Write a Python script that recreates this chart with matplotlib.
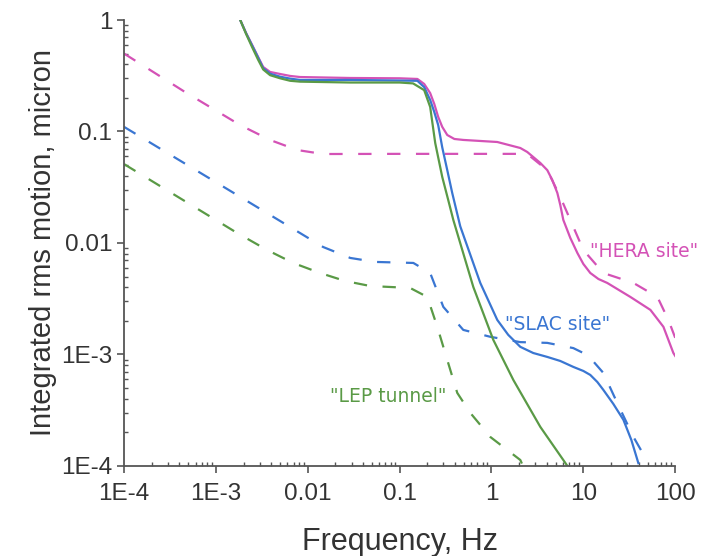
import matplotlib.pyplot as plt
from matplotlib.ticker import FixedLocator, FixedFormatter, LogLocator, NullFormatter

# HERA site
hera_f = [0.00184, 0.00213, 0.00248, 0.00288, 0.00327, 0.00389, 0.0050, 0.00643, 0.00826, 0.029,
          0.10, 0.156, 0.185, 0.215, 0.238, 0.263, 0.291, 0.330, 0.394, 0.493, 1.156, 2.06, 2.45,
          2.85, 3.40, 4.05, 4.59, 5.21, 5.61, 6.05, 7.21, 8.61, 10.0, 11.9, 14.6, 18.2, 32.5, 53.7,
          74.4, 95.5, 100]
hera_v = [1.0, 0.765, 0.597, 0.466, 0.379, 0.342, 0.328, 0.315, 0.308, 0.302,
          0.30, 0.296, 0.267, 0.221, 0.177, 0.135, 0.110, 0.093, 0.0857, 0.084, 0.0805, 0.0711, 0.0655,
          0.059, 0.0522, 0.045, 0.0367, 0.0281, 0.0219, 0.0161, 0.0111, 0.00813, 0.00648, 0.00538,
          0.00475, 0.00438, 0.00328, 0.00251, 0.00177, 0.00103, 0.00097]
hera_dash_f = [1e-4, 0.000461, 0.00184, 0.00389, 0.00767, 0.0147, 0.10, 1.25, 2.45, 3.67, 4.05,
               5.61, 7.21, 10.0, 16.5, 35.1, 64.0, 84.3, 100]
hera_dash_v = [0.50, 0.226, 0.114, 0.0839, 0.0682, 0.0628, 0.063, 0.063, 0.063, 0.048, 0.045,
               0.0259, 0.0161, 0.00865, 0.00538, 0.00438, 0.00328, 0.00204, 0.00141]

# SLAC site
slac_f = [0.00184, 0.00213, 0.00248, 0.00288, 0.00327, 0.00389, 0.0050, 0.00643, 0.00826, 0.029,
          0.156, 0.185, 0.215, 0.238, 0.263, 0.291, 0.330, 0.374, 0.457, 0.755, 1.156, 1.52, 2.06,
          2.85, 4.05, 5.61, 7.78, 10.0, 11.9, 14.2, 16.5, 21.2, 27.3, 33.3, 39.7]
slac_v = [1.0, 0.76, 0.59, 0.46, 0.37, 0.33, 0.31, 0.298, 0.29, 0.29,
          0.285, 0.25, 0.1916, 0.15, 0.114, 0.072, 0.045, 0.028, 0.0141, 0.00438, 0.00204, 0.0015,
          0.00117, 0.00103, 0.00095, 0.000874, 0.000773, 0.000711, 0.000655, 0.000566, 0.000481,
          0.00036, 0.000259, 0.000171, 0.000106]
slac_dash_f = [1e-4, 0.00184, 0.0147, 0.029, 0.0542, 0.141, 0.215, 0.299, 0.493, 0.97, 2.06,
               4.05, 7.78, 10.0, 11.9, 16.5, 23.4, 35.1, 51.1]
slac_dash_v = [0.11, 0.0259, 0.0092, 0.00734, 0.00676, 0.00662, 0.00538, 0.00267, 0.00166, 0.00144,
               0.00129, 0.00127, 0.00114, 0.00103, 0.00093, 0.000683, 0.000367, 0.000182, 0.000106]

# LEP tunnel
lep_f = [0.00184, 0.00213, 0.00248, 0.00288, 0.00327, 0.00389, 0.0050, 0.00643, 0.00826, 0.029,
         0.10, 0.14, 0.185, 0.215, 0.244, 0.291, 0.338, 0.384, 0.634, 1.047, 1.73, 3.40, 6.05, 6.7]
lep_v = [1.0, 0.75, 0.57, 0.44, 0.36, 0.32, 0.30, 0.285, 0.28, 0.275,
         0.275, 0.27, 0.235, 0.166, 0.0788, 0.0391, 0.0243, 0.0161, 0.00403, 0.00135, 0.00059,
         0.000224, 0.000113, 0.0001]
lep_dash_f = [1e-4, 0.0017, 0.00361, 0.00693, 0.0136, 0.0255, 0.0479, 0.130, 0.200, 0.257, 0.330,
              0.424, 0.588, 0.97, 2.06, 2.2]
lep_dash_v = [0.051, 0.0123, 0.00865, 0.00662, 0.00538, 0.00456, 0.00411, 0.00395, 0.00328, 0.00177,
              0.000893, 0.000452, 0.000299, 0.000182, 0.000113, 0.0001]

x_ticks = [1e-4, 1e-3, 0.01, 0.1, 1, 10, 100]
x_labels = ["1E-4", "1E-3", "0.01", "0.1", "1", "10", "100"]
y_ticks = [1e-4, 1e-3, 0.01, 0.1, 1]
y_labels = ["1E-4", "1E-3", "0.01", "0.1", "1"]

magenta = "#d452b6"
blue = "#3a76d2"
green = "#5a9a46"

plt.rcParams["font.family"] = ["Liberation Sans", "DejaVu Sans"]

fig = plt.figure(figsize=(7.13, 5.56), dpi=100)
ax = fig.add_axes([0.174, 0.162, 0.773, 0.802])

lw = 1.6
dash = (6, 7)
ax.plot(hera_f, hera_v, color=magenta, lw=lw)
ax.plot(hera_dash_f, hera_dash_v, color=magenta, lw=lw, dashes=dash)
ax.plot(slac_f, slac_v, color=blue, lw=lw)
ax.plot(slac_dash_f, slac_dash_v, color=blue, lw=lw, dashes=dash)
ax.plot(lep_f, lep_v, color=green, lw=lw)
ax.plot(lep_dash_f, lep_dash_v, color=green, lw=lw, dashes=dash)

ax.set_xscale("log")
ax.set_yscale("log")
ax.set_xlim(1e-4, 100)
ax.set_ylim(1e-4, 1)

ax.xaxis.set_major_locator(FixedLocator(x_ticks))
ax.xaxis.set_major_formatter(FixedFormatter(x_labels))
ax.yaxis.set_major_locator(FixedLocator(y_ticks))
ax.yaxis.set_major_formatter(FixedFormatter(y_labels))
ax.xaxis.set_minor_locator(LogLocator(base=10, subs=range(2, 10), numticks=20))
ax.yaxis.set_minor_locator(LogLocator(base=10, subs=range(2, 10), numticks=20))
ax.xaxis.set_minor_formatter(NullFormatter())
ax.yaxis.set_minor_formatter(NullFormatter())

for s in ["top", "right"]:
    ax.spines[s].set_visible(False)
for s in ["left", "bottom"]:
    ax.spines[s].set_color("#555555")
    ax.spines[s].set_linewidth(1.3)

ax.tick_params(which="major", direction="out", length=5, width=1.2, color="#555555",
               labelsize=17.5, labelcolor="#333333")
ax.tick_params(which="minor", direction="in", length=3, width=1.0, color="#555555")
ax.tick_params(axis="x", which="major", pad=7)

ax.set_xlabel("Frequency, Hz", fontsize=22, color="#333333", labelpad=16)
ax.set_ylabel("Integrated rms motion, micron", fontsize=21, color="#333333", labelpad=3)

ax.text(11.9, 0.0083, '"HERA site"', color=magenta, fontsize=13.5, ha="left", va="center",
        family="DejaVu Sans")
ax.text(1.41, 0.00184, '"SLAC site"', color=blue, fontsize=13.5, ha="left", va="center",
        family="DejaVu Sans")
ax.text(0.0175, 0.000416, '"LEP tunnel"', color=green, fontsize=13.5, ha="left", va="center",
        family="DejaVu Sans")

fig.savefig("out.png", dpi=100)
